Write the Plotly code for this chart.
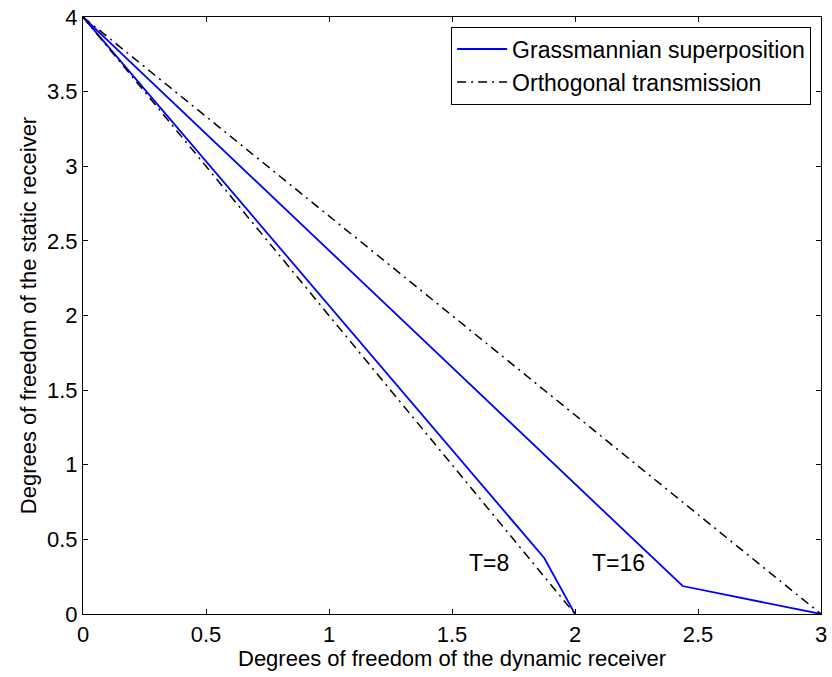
import plotly.graph_objects as go

# Corner points of the degrees-of-freedom regions (dynamic DoF, static DoF)
grass_t8_x = [0, 1.875, 2]
grass_t8_y = [4, 0.375, 0]
grass_t16_x = [0, 2.4375, 3]
grass_t16_y = [4, 0.1875, 0]
orth_t8_x = [0, 2]
orth_t8_y = [4, 0]
orth_t16_x = [0, 3]
orth_t16_y = [4, 0]

x_ticks = [0, 0.5, 1, 1.5, 2, 2.5, 3]
y_ticks = [0, 0.5, 1, 1.5, 2, 2.5, 3, 3.5, 4]

blue = "rgb(0,0,255)"
dashdot = "9px,5px,2px,5px"
font_family = "Liberation Sans, Arial, sans-serif"

fig = go.Figure()
fig.add_trace(go.Scatter(x=grass_t16_x, y=grass_t16_y, mode="lines",
                         line=dict(color=blue, width=1.8),
                         name="Grassmannian superposition"))
fig.add_trace(go.Scatter(x=orth_t16_x, y=orth_t16_y, mode="lines",
                         line=dict(color="black", width=1.5, dash=dashdot),
                         name="Orthogonal transmission"))
fig.add_trace(go.Scatter(x=grass_t8_x, y=grass_t8_y, mode="lines",
                         line=dict(color=blue, width=1.8), showlegend=False))
fig.add_trace(go.Scatter(x=orth_t8_x, y=orth_t8_y, mode="lines",
                         line=dict(color="black", width=1.5, dash=dashdot),
                         showlegend=False))

fig.add_annotation(x=1.649, y=0.34, text="T=8", showarrow=False,
                   font=dict(size=23, color="black", family=font_family))
fig.add_annotation(x=2.177, y=0.34, text="T=16", showarrow=False,
                   font=dict(size=23, color="black", family=font_family))

axis_common = dict(showline=True, linecolor="black", linewidth=1.2, mirror="ticks",
                   ticks="inside", ticklen=5, tickcolor="black", tickwidth=1,
                   showgrid=False, zeroline=False, ticklabeloverflow="allow",
                   tickfont=dict(size=22, color="black", family=font_family))

fig.update_xaxes(range=[0, 3], tickvals=x_ticks, ticktext=[f"{v:g}" for v in x_ticks],
                 title=dict(text="Degrees of freedom of the dynamic receiver",
                            font=dict(size=22, color="black", family=font_family),
                            standoff=0),
                 **axis_common)
fig.update_yaxes(range=[0, 4], tickvals=y_ticks, ticktext=[f"{v:g}" for v in y_ticks],
                 title=dict(text="Degrees of freedom of the static receiver",
                            font=dict(size=22, color="black", family=font_family),
                            standoff=4),
                 **axis_common)

fig.update_layout(
    width=832, height=677,
    margin=dict(l=83, r=5, t=15, b=63),
    plot_bgcolor="white", paper_bgcolor="white",
    legend=dict(x=0.9866, y=0.984, xanchor="right", yanchor="top",
                bordercolor="black", borderwidth=1, bgcolor="white",
                font=dict(size=23, color="black", family=font_family),
                tracegroupgap=0, itemwidth=50),
)

fig.write_html("out.html")
